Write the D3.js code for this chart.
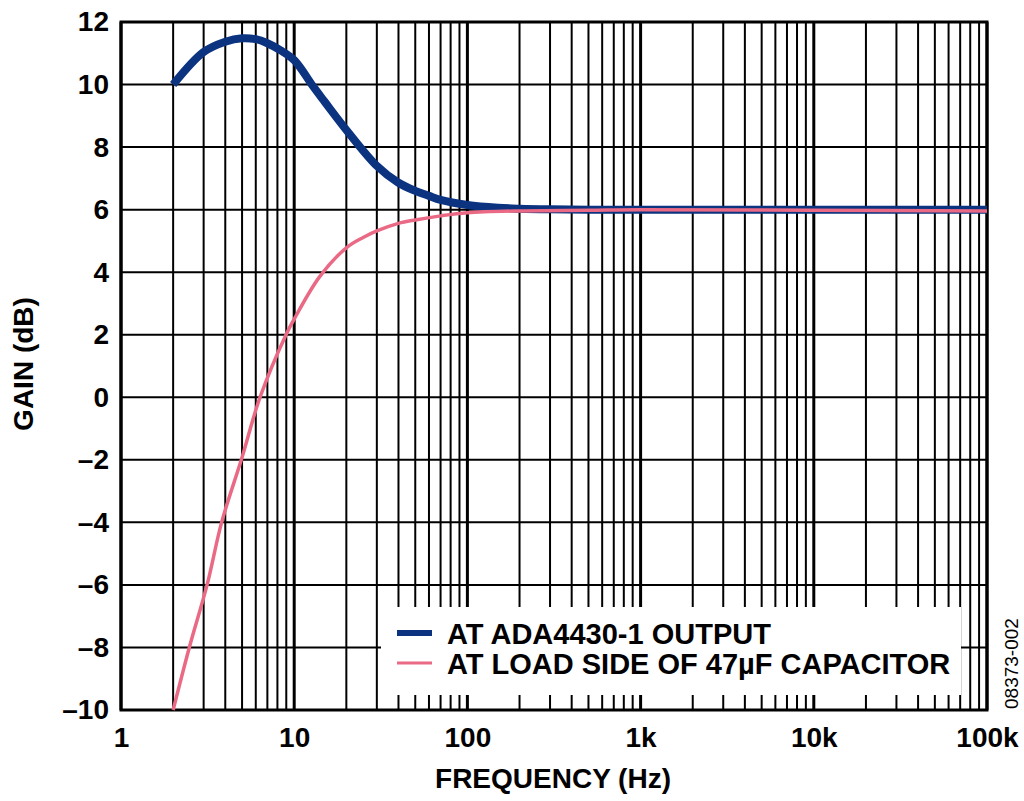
<!DOCTYPE html>
<html>
<head>
<meta charset="utf-8">
<script src="https://cdn.jsdelivr.net/npm/d3@7"></script>
<style>
  body { margin: 0; background: #fff; }
  svg text { font-family: "Liberation Sans", Arial, sans-serif; }
</style>
</head>
<body>
<div id="chart"></div>
<script>
// values
let freq_out = [2, 3, 4, 5, 6, 7, 8.3, 10, 12.9, 15, 20, 30, 40, 50, 60, 70, 100, 150, 200, 300, 500, 1000, 10000, 100000];
let gain_out = [10.0, 11.04, 11.37, 11.48, 11.45, 11.32, 11.1, 10.78, 9.93, 9.45, 8.55, 7.4, 6.86, 6.6, 6.44, 6.31, 6.15, 6.06, 6.03, 6.01, 6.0, 6.0, 6.0, 6.0];
let freq_load = [2, 2.48, 3.14, 3.81, 4.95, 6.35, 8.97, 10, 14, 20, 25, 30, 40, 50, 70, 100, 200, 500, 1000, 10000, 100000];
let gain_load = [-10.0, -8.0, -6.0, -4.0, -2.0, 0.0, 2.0, 2.5, 3.85, 4.78, 5.11, 5.32, 5.56, 5.67, 5.8, 5.9, 5.96, 5.98, 6.0, 5.98, 5.96];
let x_ticks = [1, 10, 100, 1000, 10000, 100000];
let x_tick_labels = ["1", "10", "100", "1k", "10k", "100k"];
let y_ticks = [-10, -8, -6, -4, -2, 0, 2, 4, 6, 8, 10, 12];
let legend_labels = ["AT ADA4430-1 OUTPUT", "AT LOAD SIDE OF 47\u00b5F CAPACITOR"];

let margin = {top: 22, right: 37, left: 121, bottom: 91};
let width = 1024 - margin.left - margin.right;
let height = 801 - margin.top - margin.bottom;

let svg = d3.select("#chart").append("svg")
    .attr("width", 1024).attr("height", 801);
let g = svg.append("g").attr("transform", "translate(" + margin.left + "," + margin.top + ")");

let xScale = d3.scaleLog().domain([1, 100000]).range([0, width]);
let yScale = d3.scaleLinear().domain([-10, 12]).range([height, 0]);

// minor + major vertical grid
let minor = [];
for (let d = 1; d < 100000; d *= 10) {
    for (let k = 2; k <= 9; k++) minor.push(d * k);
}
g.selectAll(".vminor").data(minor).enter().append("line")
    .attr("x1", d => xScale(d)).attr("x2", d => xScale(d))
    .attr("y1", 0).attr("y2", height)
    .attr("stroke", "#000").attr("stroke-width", 2);
g.selectAll(".vmajor").data(x_ticks).enter().append("line")
    .attr("x1", d => xScale(d)).attr("x2", d => xScale(d))
    .attr("y1", 0).attr("y2", height)
    .attr("stroke", "#000").attr("stroke-width", 3);
g.selectAll(".hgrid").data(y_ticks).enter().append("line")
    .attr("x1", 0).attr("x2", width)
    .attr("y1", d => yScale(d)).attr("y2", d => yScale(d))
    .attr("stroke", "#000").attr("stroke-width", 2);

// legend background hides the grid
g.append("rect")
    .attr("x", 381 - margin.left).attr("y", 607 - margin.top)
    .attr("width", 580).attr("height", 88)
    .attr("fill", "#fff");

g.append("rect").attr("x", 0).attr("y", 0).attr("width", width).attr("height", height)
    .attr("fill", "none").attr("stroke", "#000").attr("stroke-width", 3);

let line = d3.line().x(d => xScale(d[0])).y(d => yScale(d[1])).curve(d3.curveCatmullRom.alpha(0.5));

g.append("path").datum(d3.zip(freq_out, gain_out))
    .attr("d", line).attr("fill", "none")
    .attr("stroke", "#0b3380").attr("stroke-width", 8).attr("stroke-linejoin", "round");
g.append("path").datum(d3.zip(freq_load, gain_load))
    .attr("d", line).attr("fill", "none")
    .attr("stroke", "#ea6a85").attr("stroke-width", 3.5);

// axes labels
let xAxis = d3.axisBottom(xScale).tickValues(x_ticks).tickSize(0).tickPadding(17)
    .tickFormat((d, i) => x_tick_labels[i]);
let xa = g.append("g").attr("transform", "translate(0," + height + ")").call(xAxis);
xa.select(".domain").remove();
xa.selectAll("text").attr("font-size", 28).attr("font-weight", "bold")
    .attr("font-family", "Liberation Sans, Arial, sans-serif").attr("fill", "#000");

let yAxis = d3.axisLeft(yScale).tickValues(y_ticks).tickSize(0).tickPadding(12)
    .tickFormat(d => d < 0 ? "\u2013" + Math.abs(d) : d);
let ya = g.append("g").call(yAxis);
ya.select(".domain").remove();
ya.selectAll("text").attr("font-size", 28).attr("font-weight", "bold")
    .attr("font-family", "Liberation Sans, Arial, sans-serif").attr("fill", "#000");

svg.append("text").attr("x", margin.left + width / 2 - 1).attr("y", 788)
    .attr("text-anchor", "middle").attr("font-size", 28).attr("font-weight", "bold")
    .text("FREQUENCY (Hz)");
svg.append("text").attr("transform", "translate(33," + (margin.top + height / 2 - 2) + ") rotate(-90)")
    .attr("text-anchor", "middle").attr("font-size", 28).attr("font-weight", "bold")
    .text("GAIN (dB)");
svg.append("text").attr("transform", "translate(1018,709) rotate(-90)")
    .attr("text-anchor", "start").attr("font-size", 19)
    .text("08373-002");

// legend
let legColors = ["#0b3380", "#ea6a85"];
let legWidths = [6, 3];
let leg = svg.selectAll(".leg").data(legend_labels).enter().append("g")
    .attr("transform", (d, i) => "translate(397," + (633 + i * 30) + ")");
leg.append("line").attr("x1", 0).attr("x2", 35)
    .attr("stroke", (d, i) => legColors[i]).attr("stroke-width", (d, i) => legWidths[i]);
leg.append("text").attr("x", 50).attr("y", 10.5).attr("font-size", 29).attr("font-weight", "bold")
    .text(d => d);
</script>
</body>
</html>
